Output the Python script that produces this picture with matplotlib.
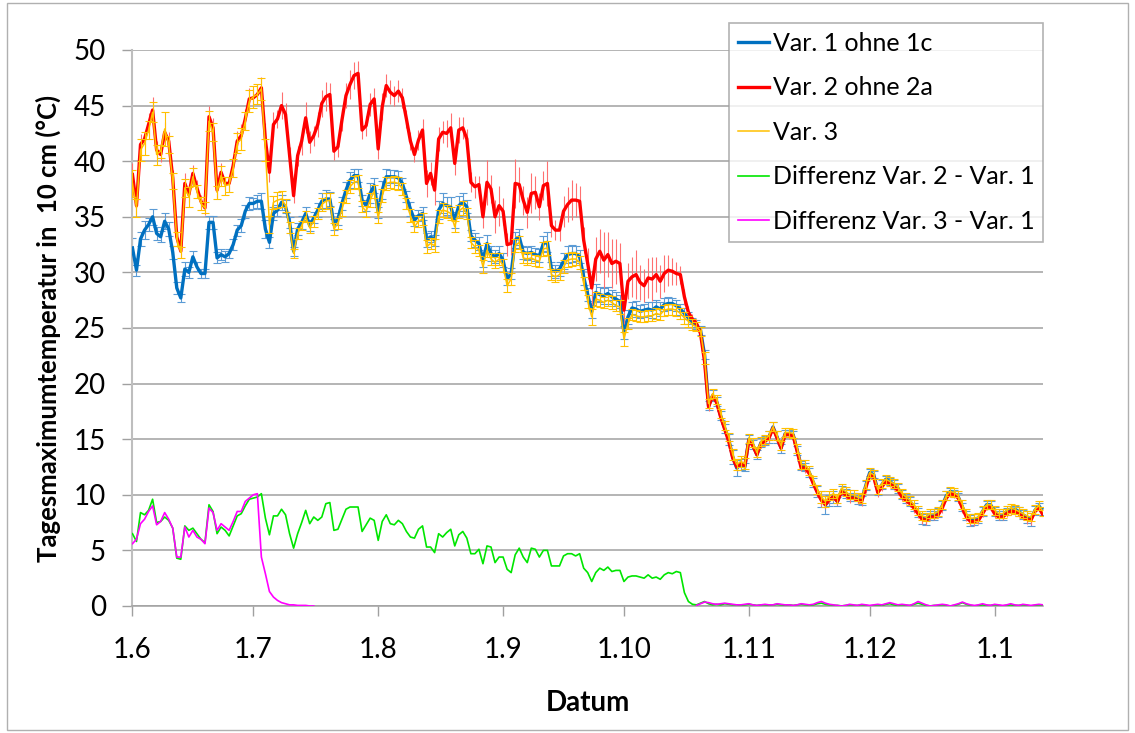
import numpy as np
import matplotlib.pyplot as plt
from matplotlib.patches import Rectangle

plt.rcParams["font.family"] = ["Lato", "DejaVu Sans"]

# daily values from 1 June onwards (day 0 = 1.6.)
TICK_DAYS = [0, 30, 61, 92, 122, 153, 183, 214]
TICK_LABELS = ["1.6", "1.7", "1.8", "1.9", "1.10", "1.11", "1.12", "1.1"]

VAR1 = [
    32.2, 30.2, 33.0, 33.8, 34.3, 35.0, 33.5, 33.2, 34.6, 33.9,
    31.8, 28.6, 27.7, 30.3, 30.0, 31.4, 30.5, 29.9, 29.9, 34.5,
    34.5, 31.3, 31.6, 31.4, 31.7, 32.5, 33.8, 34.2, 35.5, 36.2,
    36.2, 36.4, 36.4, 33.9, 32.7, 35.3, 35.6, 36.3, 35.9, 34.5,
    31.9, 33.9, 34.5, 35.3, 34.2, 34.9, 35.6, 36.4, 36.6, 36.6,
    34.3, 34.8, 36.2, 37.4, 38.3, 38.7, 38.7, 36.5, 36.0, 37.1,
    37.8, 35.4, 37.4, 38.6, 38.6, 38.6, 38.5, 38.0, 36.8, 35.7,
    34.7, 35.1, 35.3, 32.9, 33.2, 32.9, 35.6, 36.2, 36.0, 35.9,
    34.7, 36.0, 36.3, 35.9, 33.3, 32.9, 32.6, 31.1, 32.6, 31.7,
    31.4, 31.7, 31.1, 29.4, 29.9, 32.9, 33.2, 31.8, 31.7, 31.8,
    31.6, 31.5, 32.6, 32.7, 30.3, 30.1, 30.3, 31.0, 31.6, 31.7,
    31.7, 31.4, 29.6, 28.0, 26.5, 28.2, 28.0, 27.9, 28.1, 27.8,
    27.6, 27.4, 24.6, 26.0, 26.8, 26.7, 26.5, 26.6, 26.7, 26.6,
    26.9, 26.7, 27.1, 27.2, 27.2, 27.0, 26.7, 26.3, 25.9, 25.5,
    25.3, 24.8, 22.6, 18.0, 18.9, 18.4, 17.1, 16.0, 15.0, 13.4,
    12.4, 12.7, 12.5, 15.0, 14.5, 13.6, 14.7, 14.9, 15.2, 16.1,
    15.2, 14.2, 15.5, 15.5, 15.4, 14.0, 12.6, 12.5, 12.0, 11.1,
    10.3, 9.6, 9.1, 9.5, 9.8, 9.4, 10.4, 10.1, 9.8, 9.8,
    9.6, 9.5, 10.8, 12.0, 11.8, 10.4, 10.9, 11.4, 11.2, 10.9,
    10.6, 10.0, 9.7, 9.4, 8.9, 8.4, 7.9, 7.8, 8.1, 8.1,
    8.4, 9.0, 9.9, 10.3, 10.1, 9.8, 8.9, 8.1, 7.7, 7.8,
    7.9, 8.5, 9.1, 9.1, 8.5, 8.1, 8.1, 8.5, 8.7, 8.7,
    8.5, 8.2, 8.0, 7.8, 8.6, 9.0, 8.5,
]

VAR1_ERR = [
    0.9, 0.5, 0.6, 0.8, 0.6, 0.7, 0.6, 0.5, 0.7, 0.6,
    0.6, 0.5, 0.4, 0.6, 0.5, 0.5, 0.4, 0.4, 0.4, 0.6,
    0.6, 0.5, 0.5, 0.5, 0.4, 0.5, 0.5, 0.6, 0.6, 0.6,
    0.5, 0.6, 0.7, 0.8, 0.5, 0.6, 0.5, 0.7, 0.6, 0.5,
    0.4, 0.5, 0.6, 0.6, 0.5, 0.5, 0.6, 0.7, 0.8, 0.6,
    0.5, 0.5, 0.6, 0.7, 0.7, 0.6, 0.6, 0.5, 0.5, 0.9,
    0.7, 0.5, 0.8, 0.7, 0.6, 0.6, 0.6, 0.5, 0.5, 0.6,
    0.5, 0.5, 0.6, 0.6, 0.5, 0.5, 0.8, 0.9, 0.8, 0.9,
    0.7, 0.9, 0.8, 0.6, 0.5, 0.6, 0.6, 0.6, 0.8, 0.7,
    0.6, 0.7, 0.6, 0.5, 0.5, 0.7, 0.7, 0.6, 0.6, 0.6,
    0.6, 0.6, 0.7, 0.9, 0.6, 0.6, 0.6, 0.7, 0.8, 0.8,
    0.7, 0.6, 0.7, 0.6, 0.6, 0.8, 0.7, 0.7, 0.6, 0.6,
    0.6, 0.6, 0.6, 0.6, 0.5, 0.7, 0.6, 0.6, 0.6, 0.7,
    0.6, 0.6, 0.6, 0.6, 0.5, 0.5, 0.5, 0.5, 0.5, 0.4,
    0.4, 0.4, 0.4, 0.4, 0.5, 0.4, 0.4, 0.4, 0.5, 0.6,
    0.7, 0.5, 0.4, 0.4, 0.4, 0.4, 0.4, 0.4, 0.5, 0.4,
    0.5, 0.4, 0.3, 0.3, 0.3, 0.4, 0.4, 0.4, 0.4, 0.4,
    0.5, 0.7, 0.8, 0.5, 0.5, 0.4, 0.4, 0.4, 0.4, 0.4,
    0.4, 0.4, 0.4, 0.3, 0.3, 0.4, 0.4, 0.3, 0.3, 0.4,
    0.4, 0.4, 0.4, 0.4, 0.4, 0.4, 0.5, 0.5, 0.4, 0.4,
    0.4, 0.4, 0.4, 0.3, 0.3, 0.4, 0.4, 0.4, 0.5, 0.5,
    0.4, 0.4, 0.3, 0.3, 0.4, 0.4, 0.4, 0.3, 0.3, 0.3,
    0.4, 0.4, 0.5, 0.6, 0.4, 0.3, 0.3,
]

VAR2 = [
    38.8, 36.0, 41.5, 42.0, 43.3, 44.6, 41.0, 40.6, 42.6, 41.8,
    38.5, 33.2, 31.9, 38.0, 37.0, 38.9, 37.6, 36.4, 35.8, 44.0,
    43.0, 37.4, 39.0, 38.0, 38.0, 39.6, 41.8, 42.3, 43.8, 45.6,
    45.7, 46.0, 46.6, 41.9, 39.0, 43.3, 43.8, 45.0, 44.2, 40.5,
    36.9, 40.5, 41.8, 43.9, 41.7, 42.3, 43.3, 45.2, 45.8, 46.0,
    40.9, 41.3, 43.7, 45.9, 46.9, 47.7, 47.9, 42.8, 43.2, 45.1,
    45.6, 41.1, 44.9, 46.8, 46.2, 45.9, 46.3, 45.7, 43.8, 41.8,
    40.6, 41.9, 42.8, 38.0, 38.9, 37.4, 42.0, 42.6, 42.5, 43.0,
    39.8, 42.8, 43.0, 42.0, 38.1, 37.7, 37.9, 35.0, 38.1, 37.5,
    35.0, 36.0, 35.5, 32.5, 32.6, 38.0, 37.9, 36.5, 35.4, 37.1,
    37.2, 35.9, 37.8, 38.0, 34.2, 33.8, 33.8, 35.5, 36.1, 36.5,
    36.5, 36.4, 32.9, 30.8, 28.6, 31.2, 31.9, 31.1, 31.6, 30.8,
    31.0, 30.8, 26.6, 29.2, 29.6, 29.8, 29.1, 28.8, 29.5, 29.4,
    29.8, 29.2, 29.9, 30.2, 30.1, 29.9, 29.8, 27.8, 26.4, 25.8,
    25.4, 24.5, 22.0, 17.9, 18.9, 18.3, 17.0, 15.9, 14.8, 13.3,
    12.5, 12.8, 12.6, 14.9, 14.4, 13.6, 14.6, 14.8, 15.1, 16.0,
    15.1, 14.2, 15.4, 15.4, 15.3, 13.9, 12.4, 12.4, 11.9, 11.0,
    10.2, 9.5, 9.1, 9.6, 9.8, 9.4, 10.3, 10.0, 9.7, 9.7,
    9.5, 9.4, 10.6, 11.8, 11.6, 10.2, 10.7, 11.2, 11.0, 10.7,
    10.4, 9.8, 9.5, 9.2, 8.8, 8.3, 7.8, 7.7, 8.0, 8.0,
    8.2, 8.8, 9.7, 10.1, 10.0, 9.7, 8.8, 8.0, 7.6, 7.6,
    7.7, 8.3, 8.9, 8.9, 8.3, 8.0, 8.0, 8.3, 8.5, 8.5,
    8.3, 8.0, 7.8, 7.7, 8.5, 8.8, 8.2,
]

VAR2_ERR = [
    1.0, 0.8, 0.9, 0.7, 1.0, 1.2, 0.8, 0.7, 0.9, 0.8,
    0.7, 0.6, 0.5, 0.9, 0.7, 0.8, 0.7, 0.6, 0.6, 1.0,
    0.9, 0.7, 0.8, 0.6, 0.7, 0.8, 0.9, 1.0, 0.9, 1.0,
    0.8, 0.9, 1.0, 1.5, 0.9, 1.1, 0.8, 1.2, 1.0, 0.8,
    0.7, 0.9, 1.2, 1.4, 1.0, 0.9, 1.1, 1.2, 1.3, 1.0,
    0.8, 0.9, 1.0, 1.1, 1.3, 1.2, 1.1, 0.8, 0.9, 1.0,
    1.0, 0.9, 1.2, 1.0, 1.1, 0.9, 1.0, 0.9, 0.8, 0.8,
    0.7, 0.9, 1.0, 1.2, 1.0, 1.3, 1.1, 1.0, 1.2, 1.3,
    1.0, 1.2, 1.0, 0.9, 0.9, 1.0, 0.8, 1.0, 2.0, 1.3,
    1.5, 1.8, 1.2, 1.0, 1.0, 2.2, 1.6, 1.3, 1.4, 1.8,
    1.5, 1.2, 1.3, 2.0, 1.0, 0.9, 1.0, 1.4, 1.6, 1.8,
    1.5, 1.4, 1.2, 1.4, 1.5, 2.0, 2.0, 2.5, 2.0, 2.2,
    2.0, 1.8, 1.2, 1.6, 1.8, 2.2, 1.6, 1.5, 1.8, 2.0,
    1.6, 1.5, 1.7, 1.4, 1.2, 1.0, 0.8, 0.7, 0.6, 0.5,
    0.4, 0.4, 0.5, 0.4, 0.4, 0.4, 0.3, 0.4, 0.4, 0.4,
    0.4, 0.4, 0.3, 0.4, 0.4, 0.3, 0.4, 0.4, 0.4, 0.4,
    0.4, 0.3, 0.3, 0.4, 0.4, 0.4, 0.3, 0.4, 0.4, 0.3,
    0.4, 0.5, 0.4, 0.4, 0.4, 0.3, 0.3, 0.4, 0.4, 0.3,
    0.3, 0.4, 0.4, 0.3, 0.3, 0.4, 0.4, 0.3, 0.3, 0.3,
    0.4, 0.4, 0.3, 0.3, 0.4, 0.4, 0.4, 0.4, 0.3, 0.3,
    0.3, 0.4, 0.3, 0.3, 0.3, 0.4, 0.4, 0.4, 0.4, 0.4,
    0.3, 0.3, 0.3, 0.3, 0.4, 0.3, 0.3, 0.3, 0.3, 0.3,
    0.3, 0.3, 0.4, 0.4, 0.3, 0.3, 0.3,
]

VAR3 = [
    38.0, 35.8, 41.0, 41.6, 42.8, 44.4, 40.6, 40.9, 42.9, 41.5,
    38.2, 33.0, 31.8, 37.6, 36.8, 38.6, 37.3, 36.2, 35.8, 43.6,
    42.6, 37.2, 38.7, 37.8, 37.9, 39.4, 41.6, 42.0, 43.6, 45.4,
    45.8, 46.0, 46.5, 41.0, 34.3, 36.3, 36.5, 36.6, 36.0, 34.0,
    31.7, 33.5, 34.2, 35.0, 34.0, 34.6, 35.3, 36.1, 36.4, 36.5,
    33.9, 34.4, 35.7, 36.8, 37.7, 38.1, 38.2, 35.9, 35.5, 36.5,
    37.3, 34.9, 36.9, 38.0, 38.1, 38.1, 38.0, 37.5, 36.2, 35.1,
    34.1, 34.6, 34.8, 32.3, 32.6, 32.4, 35.0, 35.6, 35.5, 35.3,
    34.1, 35.5, 35.8, 35.3, 32.7, 32.3, 32.0, 30.5, 32.0, 31.2,
    30.9, 31.2, 30.6, 28.8, 29.4, 32.4, 32.7, 31.3, 31.2, 31.3,
    31.1, 31.0, 32.1, 32.2, 29.8, 29.6, 29.8, 30.5, 31.1, 31.2,
    31.2, 30.9, 29.0, 27.4, 26.0, 27.6, 27.5, 27.3, 27.5, 27.3,
    27.0, 26.9, 24.0, 25.4, 26.2, 26.1, 26.0, 26.0, 26.1, 26.1,
    26.3, 26.2, 26.6, 26.7, 26.7, 26.6, 26.3, 25.9, 25.6, 25.3,
    25.1, 24.7, 22.3, 18.2, 19.1, 18.6, 17.3, 16.2, 15.2, 13.6,
    12.7, 13.0, 12.8, 15.1, 14.7, 13.8, 14.8, 15.0, 15.3, 16.1,
    15.3, 14.4, 15.6, 15.6, 15.5, 14.2, 12.7, 12.7, 12.2, 11.3,
    10.5, 9.8, 9.4, 9.9, 10.1, 9.7, 10.6, 10.3, 10.0, 10.0,
    9.8, 9.7, 10.9, 12.0, 11.8, 10.5, 11.0, 11.4, 11.2, 11.0,
    10.7, 10.1, 9.8, 9.5, 9.1, 8.6, 8.1, 8.0, 8.3, 8.3,
    8.5, 9.1, 9.9, 10.3, 10.2, 9.9, 9.1, 8.3, 7.9, 7.9,
    8.0, 8.6, 9.1, 9.1, 8.6, 8.3, 8.3, 8.6, 8.8, 8.7,
    8.5, 8.3, 8.1, 8.0, 8.7, 9.0, 8.5,
]

VAR3_ERR = [
    1.2, 0.8, 1.0, 1.0, 0.8, 0.9, 0.9, 0.6, 1.5, 0.8,
    0.7, 0.6, 0.5, 0.8, 0.9, 0.8, 0.6, 0.6, 0.5, 0.9,
    0.8, 0.6, 0.9, 0.8, 0.7, 0.8, 0.9, 1.0, 0.8, 1.0,
    1.0, 0.9, 1.0, 1.0, 0.8, 0.6, 0.7, 0.7, 0.6, 0.5,
    0.4, 0.5, 0.4, 0.5, 0.5, 0.5, 0.5, 0.6, 0.7, 0.6,
    0.5, 0.5, 0.6, 0.6, 0.6, 0.6, 0.6, 0.5, 0.5, 0.6,
    0.6, 0.5, 0.6, 0.6, 0.5, 0.6, 0.6, 0.5, 0.5, 0.6,
    0.5, 0.5, 0.5, 0.6, 0.5, 0.6, 0.6, 0.6, 0.6, 0.6,
    0.5, 0.6, 0.6, 0.5, 0.5, 0.6, 0.5, 0.6, 0.6, 0.5,
    0.5, 0.5, 0.6, 0.6, 0.5, 0.6, 0.6, 0.5, 0.5, 0.5,
    0.5, 0.5, 0.6, 0.6, 0.5, 0.5, 0.5, 0.6, 0.6, 0.6,
    0.5, 0.6, 0.6, 0.6, 0.7, 0.6, 0.6, 0.5, 0.5, 0.6,
    0.5, 0.6, 0.6, 0.5, 0.5, 0.5, 0.5, 0.5, 0.5, 0.5,
    0.5, 0.5, 0.5, 0.5, 0.5, 0.5, 0.5, 0.5, 0.5, 0.5,
    0.4, 0.4, 0.5, 0.4, 0.4, 0.4, 0.4, 0.4, 0.4, 0.5,
    0.5, 0.5, 0.5, 0.4, 0.4, 0.4, 0.4, 0.4, 0.4, 0.4,
    0.4, 0.4, 0.4, 0.4, 0.4, 0.4, 0.4, 0.4, 0.4, 0.4,
    0.4, 0.5, 0.5, 0.4, 0.4, 0.4, 0.4, 0.4, 0.4, 0.4,
    0.4, 0.4, 0.4, 0.4, 0.4, 0.4, 0.4, 0.4, 0.4, 0.4,
    0.4, 0.4, 0.4, 0.4, 0.4, 0.4, 0.4, 0.4, 0.4, 0.4,
    0.4, 0.4, 0.4, 0.4, 0.4, 0.4, 0.4, 0.4, 0.4, 0.4,
    0.4, 0.4, 0.4, 0.4, 0.4, 0.4, 0.4, 0.4, 0.4, 0.4,
    0.4, 0.4, 0.4, 0.4, 0.4, 0.4, 0.4,
]

DIFF_2_1 = [
    6.5, 5.8, 8.4, 8.2, 8.6, 9.6, 7.5, 7.6, 8.0, 7.7,
    7.0, 4.3, 4.2, 7.2, 6.8, 7.0, 6.5, 6.0, 5.7, 9.1,
    8.5, 6.5, 7.1, 6.8, 6.3, 7.2, 8.1, 8.3, 9.0, 9.6,
    9.7, 9.8, 10.1, 7.9, 6.4, 8.1, 8.1, 8.7, 8.2, 6.5,
    5.2, 6.5, 7.5, 8.6, 7.4, 8.0, 7.7, 8.0, 9.2, 9.3,
    6.8, 6.9, 7.8, 8.7, 8.9, 8.9, 8.9, 6.7, 7.3, 7.9,
    7.7, 5.9, 7.6, 8.2, 7.4, 7.3, 7.7, 7.4, 6.7, 6.2,
    6.1, 6.9, 7.2, 5.3, 5.3, 4.8, 6.5, 6.2, 6.6, 6.9,
    5.4, 6.4, 6.7, 6.1, 4.7, 4.7, 5.1, 3.8, 5.4, 5.3,
    3.9, 4.4, 4.4, 3.3, 3.0, 4.6, 5.2, 4.4, 3.9, 5.2,
    5.1, 4.4, 5.0, 5.0, 3.6, 3.6, 3.6, 4.5, 4.7, 4.7,
    4.5, 4.7, 3.4, 3.0, 2.2, 3.0, 3.4, 3.2, 3.5, 3.1,
    3.2, 3.2, 2.2, 2.6, 2.7, 2.7, 2.6, 2.5, 2.8, 2.5,
    2.6, 2.4, 2.8, 3.0, 2.9, 3.1, 3.0, 1.2, 0.4, 0.15,
    0.1, 0.25, 0.4, 0.2, 0.1, 0.15, 0.1, 0.2, 0.15, 0.1,
    0.1, 0.05, 0.1, 0.15, 0.1, 0.05, 0.1, 0.1, 0.05, 0.1,
    0.15, 0.1, 0.05, 0.1, 0.05, 0.1, 0.15, 0.1, 0.05, 0.1,
    0.2, 0.25, 0.15, 0.1, 0.05, 0.05, 0.0, 0.05, 0.1, 0.05,
    0.05, 0.1, 0.05, 0.0, 0.05, 0.1, 0.05, 0.15, 0.2, 0.1,
    0.05, 0.1, 0.05, 0.05, 0.15, 0.25, 0.15, 0.05, 0.0, 0.05,
    0.05, 0.1, 0.05, 0.0, 0.05, 0.15, 0.3, 0.15, 0.05, 0.0,
    0.05, 0.1, 0.05, 0.05, 0.1, 0.05, 0.0, 0.05, 0.1, 0.05,
    0.05, 0.1, 0.05, 0.0, 0.05, 0.1, 0.05,
]

# no values for Var. 3 between mid July and mid October
DIFF_3_1 = [
    5.6, 6.0, 7.4, 7.8, 8.5, 9.0, 7.3, 7.6, 8.4, 7.8,
    7.0, 4.4, 4.4, 7.1, 6.2, 6.8, 6.2, 6.0, 5.6, 8.8,
    8.4, 6.8, 7.4, 7.1, 6.8, 7.6, 8.5, 8.5, 9.4, 9.7,
    10.0, 10.1, 4.4, 2.9, 1.3, 0.8, 0.5, 0.3, 0.2, 0.1,
    0.1, 0.05, 0.05, 0.05, 0.0, 0.0,
] + [None] * 94 + [
    0.05, 0.2, 0.35, 0.3, 0.2, 0.15, 0.2, 0.25, 0.2, 0.15,
    0.1, 0.1, 0.15, 0.2, 0.1, 0.05, 0.1, 0.15, 0.1, 0.1,
    0.2, 0.15, 0.1, 0.1, 0.05, 0.1, 0.2, 0.15, 0.1, 0.15,
    0.3, 0.4, 0.25, 0.15, 0.1, 0.05, 0.0, 0.05, 0.15, 0.1,
    0.05, 0.15, 0.1, 0.05, 0.1, 0.15, 0.1, 0.2, 0.3, 0.2,
    0.1, 0.15, 0.1, 0.05, 0.2, 0.4, 0.25, 0.1, 0.0, 0.05,
    0.1, 0.15, 0.1, 0.0, 0.1, 0.2, 0.35, 0.2, 0.1, 0.05,
    0.1, 0.2, 0.1, 0.05, 0.15, 0.1, 0.05, 0.1, 0.2, 0.1,
    0.05, 0.15, 0.1, 0.05, 0.1, 0.15, 0.1,
]

days = np.arange(len(VAR1))
diff3 = np.array(DIFF_3_1, dtype=float)

fig = plt.figure(figsize=(11.35, 7.33), dpi=100)
ax = fig.add_axes([0.1167, 0.1733, 0.8022, 0.7585])

ax.errorbar(days, VAR1, yerr=VAR1_ERR, fmt="none", ecolor="#5B9BD5",
            elinewidth=0.8, capsize=3, capthick=0.8, zorder=2)
l1, = ax.plot(days, VAR1, color="#0070C0", lw=2.4, zorder=3, label="Var. 1 ohne 1c")
ax.errorbar(days, VAR2, yerr=VAR2_ERR, fmt="none", ecolor="#FF7070",
            elinewidth=0.8, capsize=0, zorder=4)
l2, = ax.plot(days, VAR2, color="#FF0000", lw=2.4, zorder=5, label="Var. 2 ohne 2a")
ax.errorbar(days, VAR3, yerr=VAR3_ERR, fmt="none", ecolor="#FFC000",
            elinewidth=0.8, capsize=3, capthick=0.8, zorder=6)
l3, = ax.plot(days, VAR3, color="#FFC000", lw=1.1, zorder=7, label="Var. 3")
l4, = ax.plot(days, DIFF_2_1, color="#00E600", lw=1.2, zorder=8,
              label="Differenz Var. 2 - Var. 1")
l5, = ax.plot(days, diff3, color="#FF00FF", lw=1.2, zorder=9,
              label="Differenz Var. 3 - Var. 1")

ax.set_xlim(0, len(VAR1) - 1)
ax.set_ylim(0, 50)
ax.set_yticks(np.arange(0, 51, 5))
ax.set_xticks(TICK_DAYS)
ax.set_xticklabels(TICK_LABELS)
ax.grid(axis="y", color="#A0A0A0", lw=1.1)
ax.set_axisbelow(True)
for side in ["top", "right"]:
    ax.spines[side].set_visible(False)
ax.spines["left"].set_color("#BEBEBE")
ax.spines["left"].set_linewidth(1.5)
ax.spines["bottom"].set_color("#A0A0A0")
ax.spines["bottom"].set_linewidth(1.1)
ax.tick_params(axis="x", length=7, width=1, color="#A0A0A0", pad=15, labelsize=20)
ax.tick_params(axis="y", length=7, width=1, color="#A0A0A0", pad=12, labelsize=20)

ax.set_xlabel("Datum", fontsize=20, fontweight="bold", labelpad=20)
ax.set_ylabel("Tagesmaximumtemperatur in  10 cm (°C)", fontsize=18.5,
              fontweight="bold", labelpad=9)

leg = ax.legend(handles=[l1, l2, l3, l4, l5], loc="upper right",
                bbox_to_anchor=(1043 / 1135, 1 - 23 / 733),
                bbox_transform=fig.transFigure, fontsize=18, frameon=True,
                fancybox=False, edgecolor="#A0A0A0", handlelength=1.25,
                handletextpad=0.15, labelspacing=0.86, borderpad=0.35,
                borderaxespad=0)
leg.get_frame().set_linewidth(1.2)

# thin frame around the whole chart area
fig.patches.append(Rectangle((7 / 1135, 3 / 733), 1121 / 1135, 727 / 733,
                             transform=fig.transFigure, fill=False,
                             edgecolor="#B0B0B0", lw=1))

fig.savefig("out.png", dpi=100)
